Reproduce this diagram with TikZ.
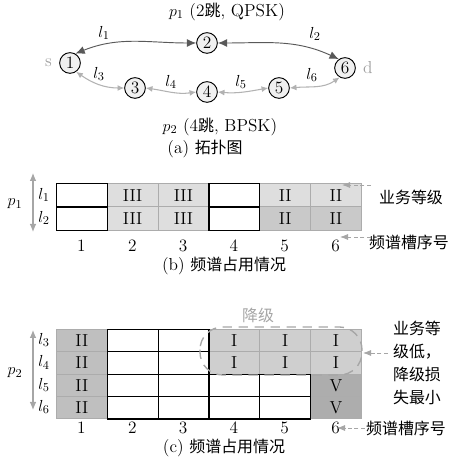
\documentclass[tikz,border=0pt]{standalone}
\usepackage{fontspec}
\usepackage{tikz}
\usetikzlibrary{arrows.meta, positioning}
\newfontfamily\cjk[Scale=0.92]{Noto Sans CJK SC}

\begin{document}
\begin{tikzpicture}[x=0.75pt, y=0.75pt,
      font=\fontsize{13}{15}\selectfont,
      vtx/.style={circle, draw=black, fill=gray!12, line width=0.7pt,
                  minimum size=15.5pt, inner sep=0pt},
      toparr/.style={{Latex[length=7pt,width=6pt]}-{Latex[length=7pt,width=6pt]},
                     draw=black!65, line width=0.7pt},
      lowarr/.style={{Latex[length=5pt,width=4.5pt]}-{Latex[length=5pt,width=4.5pt]},
                     draw=gray!60, line width=0.8pt},
      endlbl/.style={text=gray!75},
      cellb/.style={rectangle, anchor=north west, minimum width=38.1pt,
                    minimum height=17.6pt, inner sep=0pt},
      cellc/.style={cellb, minimum height=16.8pt},
      free/.style={fill=white, draw=black, line width=0.8pt},
      shade/.style={fill=gray!#1, draw=gray!65, line width=0.6pt},
      lo/.style={shade=26},
      mid/.style={shade=42},
      lvI/.style={shade=38},
      lvII/.style={shade=50},
      hi/.style={shade=64},
      sidearr/.style={{Latex[length=6pt,width=5pt]}-{Latex[length=6pt,width=5pt]},
                      draw=gray!70, line width=0.8pt},
      note/.style={-{Latex[length=6pt,width=4.5pt]}, draw=gray!70,
                   densely dashed, line width=0.6pt},
    ]
      \useasboundingbox (0,0) rectangle (454,474);

      % (a) topology
      \node (p1) at (227,462) {$p_1$ (2{\cjk 跳}, QPSK)};
      \node[vtx] (n1) at (70,411) {1};
      \node[vtx] (n2) at (207,431) {2};
      \node[vtx] (n3) at (135,386) {3};
      \node[vtx] (n4) at (207,382) {4};
      \node[vtx] (n5) at (279,386) {5};
      \node[vtx] (n6) at (345,406) {6};
      \node[endlbl, left=2pt of n1] (src) {s};
      \node[endlbl, right=2pt of n6] (dst) {d};

      \draw[toparr] (n1.60) to[out=22,in=180] (n2.west);
      \draw[toparr] (n2.east) to[out=0,in=155] (n6.125);
      \draw[lowarr] (n1.-55) to[out=-35,in=180] (n3.west);
      \draw[lowarr] (n3.east) to[out=-8,in=-172] (n4.west);
      \draw[lowarr] (n4.east) to[out=-5,in=-170] (n5.west);
      \draw[lowarr] (n5.east) to[out=5,in=-145] (n6.-120);

      \node (l1) at (104,441) {$l_1$};
      \node (l2) at (315,440) {$l_2$};
      \node (l3) at (99,400) {$l_3$};
      \node (l4) at (171,392) {$l_4$};
      \node (l5) at (241,392) {$l_5$};
      \node (l6) at (312,399) {$l_6$};
      \node (p2) at (220,347) {$p_2$ (4{\cjk 跳}, BPSK)};
      \node (capa) at (205,325) {(a) {\cjk 拓扑图}};

      % (b) spectrum of p1
      \foreach \r/\c/\t/\s in {1/2/III/lo, 1/3/III/lo, 1/5/II/lo, 1/6/II/lo,
                               2/2/III/lo, 2/3/III/lo, 2/5/II/mid, 2/6/II/mid,
                               1/1//free, 2/1//free, 1/4//free, 2/4//free}
        \node[cellb, \s] (b\r\c) at ({56+50.83*(\c-1)}, {291-23.5*(\r-1)}) {\t};
      \foreach \c in {1,...,6}
        \node (bn\c) at ({56+50.83*(\c-0.5)}, 228) {\c};
      \node (bl1) at (44,279) {$l_1$};
      \node (bl2) at (44,256) {$l_2$};
      \node (bp1) at (15,270) {$p_1$};
      \coordinate (btop) at (33,301);
      \coordinate (bbot) at (33,242);
      \draw[sidearr] (btop) -- (bbot);
      \node (grade) at (411,277) {\cjk 业务等级};
      \node (bslot) at (409,232) {\cjk 频谱槽序号};
      \coordinate (gradeFrom) at (371,289);
      \coordinate (gradeTip) at (342,289);
      \coordinate (bslotFrom) at (371,237);
      \coordinate (bslotTip) at (340,237);
      \draw[note] (gradeFrom) -- (gradeTip);
      \draw[note] (bslotFrom) -- (bslotTip);
      \node (capb) at (224,208) {(b) {\cjk 频谱占用情况}};

      % (c) spectrum of p2
      \foreach \r/\c/\t/\s in {1/1/II/lvII, 2/1/II/lvII, 3/1/II/lvII, 4/1/II/lvII,
                               1/4/I/lvI, 1/5/I/lvI, 1/6/I/lvI,
                               2/4/I/lvI, 2/5/I/lvI, 2/6/I/lvI,
                               3/6/V/hi, 4/6/V/hi,
                               1/2//free, 1/3//free, 2/2//free, 2/3//free,
                               3/2//free, 3/3//free, 3/4//free, 3/5//free,
                               4/2//free, 4/3//free, 4/4//free, 4/5//free}
        \node[cellc, \s] (c\r\c) at ({56+50.83*(\c-1)}, {145-22.35*(\r-1)}) {\t};
      \foreach \c in {1,...,6}
        \node (cn\c) at ({56+50.83*(\c-0.5)}, 46) {\c};
      \foreach \r/\l in {1/3, 2/4, 3/5, 4/6}
        \node (cl\l) at (44, {145-22.35*(\r-0.5)}) {$l_{\l}$};
      \node (cp2) at (15,101) {$p_2$};
      \coordinate (ctop) at (33,144);
      \coordinate (cbot) at (33,64);
      \draw[sidearr] (ctop) -- (cbot);

      \draw[gray!70, dashed, line width=1pt, dash pattern=on 7pt off 5pt,
            rounded corners=17pt] (200,147) rectangle (362,99);
      \node[text=gray!70] (down) at (258,159) {\cjk 降级};
      \node[align=center, font=\fontsize{13}{17.2}\selectfont] (why) at (417,111)
        {\cjk 业务等\\ \cjk 级低，\\ \cjk 降级损\\ \cjk 失最小};
      \node (cslot) at (406,46) {\cjk 频谱槽序号};
      \coordinate (whyFrom) at (388,121);
      \coordinate (whyTip) at (363,121);
      \coordinate (cslotFrom) at (365,46);
      \coordinate (cslotTip) at (337,46);
      \draw[note] (whyFrom) -- (whyTip);
      \draw[note] (cslotFrom) -- (cslotTip);
      \node (capc) at (224,26) {(c) {\cjk 频谱占用情况}};
    \end{tikzpicture}
\end{document}
